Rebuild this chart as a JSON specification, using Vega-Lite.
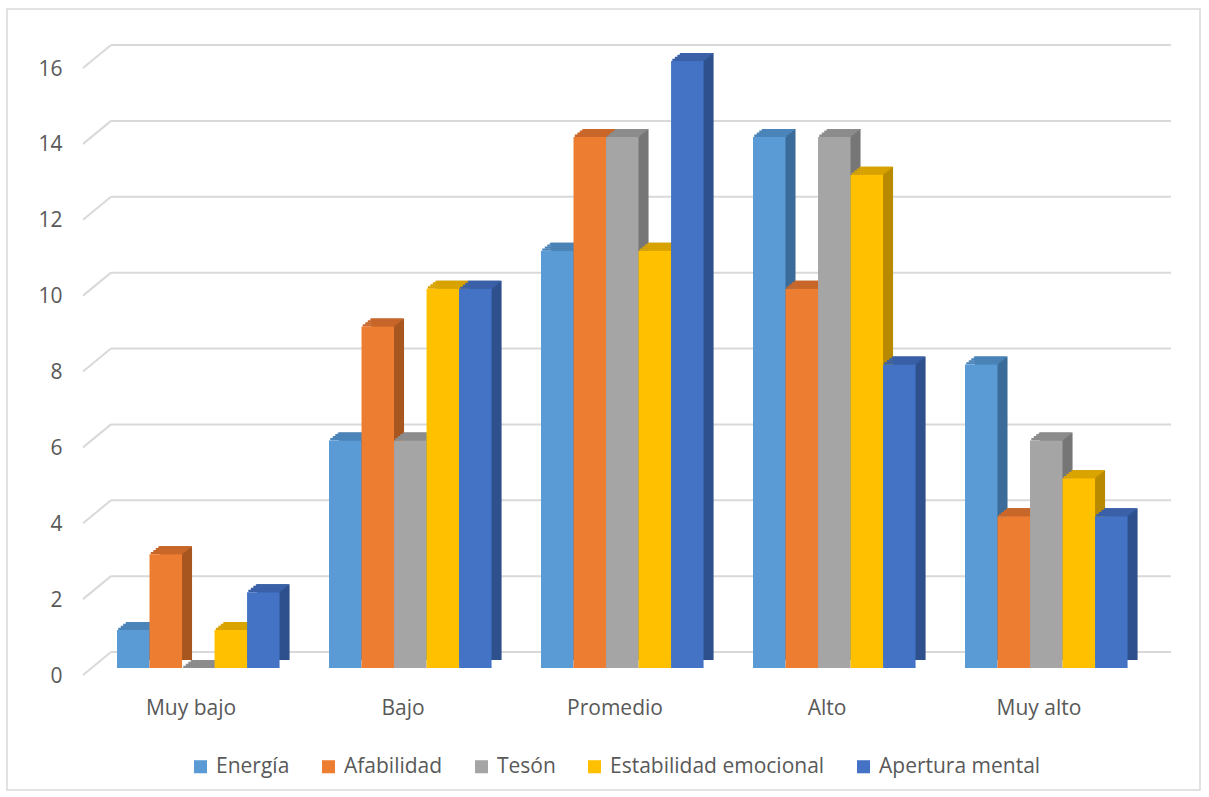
{
  "$schema": "https://vega.github.io/schema/vega-lite/v6.json",
  "width": 1193,
  "height": 781,
  "autosize": {"type": "none"},
  "padding": {"left": 7, "top": 9, "right": 9, "bottom": 7},
  "background": "#ffffff",
  "config": {
    "view": {"stroke": "#D9D9D9", "strokeWidth": 1.5},
    "font": "Open Sans",
    "axis": {"labelFont": "Open Sans", "labelFontSize": 21, "labelColor": "#595959", "grid": false, "domain": false, "ticks": false, "tickSize": 0},
    "axisX": {"bandPosition": 0.5},
    "legend": {"labelFont": "Open Sans", "labelFontSize": 21, "labelColor": "#595959", "labelLimit": 0}
  },
  "datasets": {
    "valores": [
      {"nivel": "Muy bajo", "factor": "Energía", "valor": 1},
      {"nivel": "Muy bajo", "factor": "Afabilidad", "valor": 3},
      {"nivel": "Muy bajo", "factor": "Tesón", "valor": 0},
      {"nivel": "Muy bajo", "factor": "Estabilidad emocional", "valor": 1},
      {"nivel": "Muy bajo", "factor": "Apertura mental", "valor": 2},
      {"nivel": "Bajo", "factor": "Energía", "valor": 6},
      {"nivel": "Bajo", "factor": "Afabilidad", "valor": 9},
      {"nivel": "Bajo", "factor": "Tesón", "valor": 6},
      {"nivel": "Bajo", "factor": "Estabilidad emocional", "valor": 10},
      {"nivel": "Bajo", "factor": "Apertura mental", "valor": 10},
      {"nivel": "Promedio", "factor": "Energía", "valor": 11},
      {"nivel": "Promedio", "factor": "Afabilidad", "valor": 14},
      {"nivel": "Promedio", "factor": "Tesón", "valor": 14},
      {"nivel": "Promedio", "factor": "Estabilidad emocional", "valor": 11},
      {"nivel": "Promedio", "factor": "Apertura mental", "valor": 16},
      {"nivel": "Alto", "factor": "Energía", "valor": 14},
      {"nivel": "Alto", "factor": "Afabilidad", "valor": 10},
      {"nivel": "Alto", "factor": "Tesón", "valor": 14},
      {"nivel": "Alto", "factor": "Estabilidad emocional", "valor": 13},
      {"nivel": "Alto", "factor": "Apertura mental", "valor": 8},
      {"nivel": "Muy alto", "factor": "Energía", "valor": 8},
      {"nivel": "Muy alto", "factor": "Afabilidad", "valor": 4},
      {"nivel": "Muy alto", "factor": "Tesón", "valor": 6},
      {"nivel": "Muy alto", "factor": "Estabilidad emocional", "valor": 5},
      {"nivel": "Muy alto", "factor": "Apertura mental", "valor": 4}
    ],
    "rejilla": [{"v": 0}, {"v": 2}, {"v": 4}, {"v": 6}, {"v": 8}, {"v": 10}, {"v": 12}, {"v": 14}, {"v": 16}]
  },
  "resolve": {"scale": {"color": "independent"}},
  "layer": [
    {
      "data": {"name": "rejilla"},
      "mark": {"type": "rule", "color": "#D9D9D9", "strokeWidth": 2, "xOffset": 26, "yOffset": -16, "x2Offset": 132, "y2Offset": -16},
      "encoding": {
        "x": {"datum": "Muy bajo", "bandPosition": 0, "type": "nominal", "title": null, "scale": {"domain": ["Muy bajo", "Bajo", "Promedio", "Alto", "Muy alto"], "range": [78, 1138], "paddingInner": 0, "paddingOuter": 0}, "axis": {"labelAngle": 0, "offset": -122, "labelPadding": 29, "bandPosition": 0.5}},
        "x2": {"datum": "Muy alto"},
        "y": {"field": "v", "type": "quantitative", "title": null, "scale": {"domain": [0, 16], "range": [659, 52]}, "axis": {"values": [0, 2, 4, 6, 8, 10, 12, 14, 16], "offset": -55, "labelPadding": 0, "labelOffset": 8}},
        "y2": {"field": "v"}
      }
    },
    {
      "data": {"name": "rejilla"},
      "mark": {"type": "rule", "color": "#D9D9D9", "strokeWidth": 2, "xOffset": -2, "yOffset": 7, "x2Offset": -80, "y2Offset": -16},
      "encoding": {
        "x": {"datum": "Muy bajo", "bandPosition": 0, "type": "nominal", "title": null},
        "x2": {"datum": "Muy bajo"},
        "y": {"field": "v", "type": "quantitative", "title": null},
        "y2": {"field": "v"}
      }
    },
    {
      "data": {"name": "valores"},
      "resolve": {"scale": {"color": "independent", "xOffset": "independent"}},
      "layer": [
        {
          "mark": {"type": "bar", "yOffset": -8, "y2Offset": -8},
          "encoding": {
            "xOffset": {"field": "factor", "type": "nominal", "sort": ["Energía", "Afabilidad", "Tesón", "Estabilidad emocional", "Apertura mental"], "scale": {"paddingInner": 0, "paddingOuter": 0.76, "align": 0.85}},
            "color": {"field": "factor", "type": "nominal", "legend": null, "scale": {"domain": ["Energía", "Afabilidad", "Tesón", "Estabilidad emocional", "Apertura mental"], "range": ["#3B6C99", "#A8561F", "#767676", "#B88A00", "#2E518E"]}}
          }
        },
        {
          "mark": {"type": "bar", "yOffset": -2.3, "y2Offset": 0},
          "encoding": {
            "xOffset": {"field": "factor", "type": "nominal", "sort": ["Energía", "Afabilidad", "Tesón", "Estabilidad emocional", "Apertura mental"], "scale": {"paddingInner": 0, "paddingOuter": 0.76, "align": 0.673}},
            "y2": {"field": "valor"},
            "color": {"field": "factor", "type": "nominal", "legend": null, "scale": {"domain": ["Energía", "Afabilidad", "Tesón", "Estabilidad emocional", "Apertura mental"], "range": ["#4A84B8", "#C9672A", "#8C8C8C", "#D9A300", "#3A61A8"]}}
          }
        },
        {
          "mark": {"type": "bar", "yOffset": -4.3, "y2Offset": -2},
          "encoding": {
            "xOffset": {"field": "factor", "type": "nominal", "sort": ["Energía", "Afabilidad", "Tesón", "Estabilidad emocional", "Apertura mental"], "scale": {"paddingInner": 0, "paddingOuter": 0.76, "align": 0.724}},
            "y2": {"field": "valor"},
            "color": {"field": "factor", "type": "nominal", "legend": null, "scale": {"domain": ["Energía", "Afabilidad", "Tesón", "Estabilidad emocional", "Apertura mental"], "range": ["#4A84B8", "#C9672A", "#8C8C8C", "#D9A300", "#3A61A8"]}}
          }
        },
        {
          "mark": {"type": "bar", "yOffset": -6.3, "y2Offset": -4},
          "encoding": {
            "xOffset": {"field": "factor", "type": "nominal", "sort": ["Energía", "Afabilidad", "Tesón", "Estabilidad emocional", "Apertura mental"], "scale": {"paddingInner": 0, "paddingOuter": 0.76, "align": 0.774}},
            "y2": {"field": "valor"},
            "color": {"field": "factor", "type": "nominal", "legend": null, "scale": {"domain": ["Energía", "Afabilidad", "Tesón", "Estabilidad emocional", "Apertura mental"], "range": ["#4A84B8", "#C9672A", "#8C8C8C", "#D9A300", "#3A61A8"]}}
          }
        },
        {
          "mark": {"type": "bar", "yOffset": -8, "y2Offset": -6},
          "encoding": {
            "xOffset": {"field": "factor", "type": "nominal", "sort": ["Energía", "Afabilidad", "Tesón", "Estabilidad emocional", "Apertura mental"], "scale": {"paddingInner": 0, "paddingOuter": 0.76, "align": 0.825}},
            "y2": {"field": "valor"},
            "color": {"field": "factor", "type": "nominal", "legend": null, "scale": {"domain": ["Energía", "Afabilidad", "Tesón", "Estabilidad emocional", "Apertura mental"], "range": ["#4A84B8", "#C9672A", "#8C8C8C", "#D9A300", "#3A61A8"]}}
          }
        },
        {
          "mark": {"type": "bar"},
          "encoding": {
            "xOffset": {"field": "factor", "type": "nominal", "sort": ["Energía", "Afabilidad", "Tesón", "Estabilidad emocional", "Apertura mental"], "scale": {"paddingInner": 0, "paddingOuter": 0.76, "align": 0.6475}},
            "color": {"field": "factor", "type": "nominal", "title": null, "scale": {"domain": ["Energía", "Afabilidad", "Tesón", "Estabilidad emocional", "Apertura mental"], "range": ["#5B9BD5", "#ED7D31", "#A5A5A5", "#FFC000", "#4472C4"]},
              "legend": {"orient": "none", "direction": "horizontal", "legendX": 183, "legendY": 747, "symbolType": "square", "symbolSize": 170, "symbolStrokeWidth": 0, "labelOffset": 5, "columnPadding": 28, "labelLimit": 0}}
          }
        }
      ],
      "encoding": {
        "x": {"field": "nivel", "type": "nominal", "sort": ["Muy bajo", "Bajo", "Promedio", "Alto", "Muy alto"], "title": null},
        "y": {"field": "valor", "type": "quantitative", "title": null}
      }
    }
  ]
}
